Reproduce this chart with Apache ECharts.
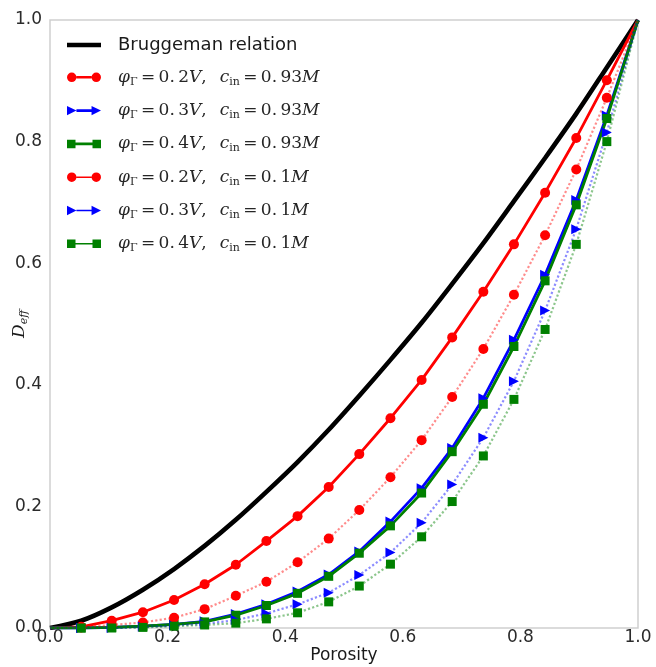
<!DOCTYPE html>
<html>
<head>
<meta charset="utf-8">
<script src="https://cdn.jsdelivr.net/npm/echarts@6/dist/echarts.min.js"></script>
<style>
  html, body { margin: 0; padding: 0; background: #ffffff; }
  #chart { width: 656px; height: 667px; }
</style>
</head>
<body>
<div id="chart"></div>
<script>
// Porosity samples shared by every curve
const porosity = [0, 0.053, 0.105, 0.158, 0.211, 0.263, 0.316, 0.368, 0.421, 0.474,
                  0.526, 0.579, 0.632, 0.684, 0.737, 0.789, 0.842, 0.895, 0.947, 1.0];

// Bruggeman relation
const bruggeman = [0, 0.012, 0.034, 0.063, 0.097, 0.135, 0.178, 0.224, 0.273, 0.326,
                   0.382, 0.441, 0.502, 0.566, 0.633, 0.702, 0.773, 0.846, 0.922, 1.0];

// c_in = 0.93 M
const phi02_c093 = [0, 0.002, 0.012, 0.026, 0.046, 0.072, 0.104, 0.143, 0.184, 0.232,
                    0.286, 0.345, 0.408, 0.478, 0.553, 0.631, 0.716, 0.806, 0.901, 1.0];
const phi03_c093 = [0, 0.000, 0.001, 0.003, 0.006, 0.011, 0.023, 0.039, 0.060, 0.088,
                    0.126, 0.175, 0.230, 0.296, 0.378, 0.474, 0.581, 0.704, 0.843, 1.0];
const phi04_c093 = [0, 0.000, 0.001, 0.003, 0.006, 0.010, 0.021, 0.037, 0.057, 0.085,
                    0.123, 0.168, 0.222, 0.290, 0.368, 0.463, 0.571, 0.696, 0.838, 1.0];

// c_in = 0.1 M
const phi02_c01 = [0, 0.001, 0.005, 0.009, 0.017, 0.031, 0.053, 0.076, 0.108, 0.147,
                   0.194, 0.248, 0.309, 0.380, 0.459, 0.548, 0.646, 0.754, 0.872, 1.0];
const phi03_c01 = [0, 0.000, 0.000, 0.002, 0.004, 0.007, 0.013, 0.024, 0.039, 0.058,
                   0.087, 0.124, 0.173, 0.236, 0.313, 0.406, 0.522, 0.656, 0.815, 1.0];
const phi04_c01 = [0, 0.000, 0.000, 0.001, 0.003, 0.005, 0.008, 0.015, 0.025, 0.043,
                   0.069, 0.105, 0.150, 0.208, 0.283, 0.376, 0.491, 0.631, 0.800, 1.0];

// Axis ticks
const xTicks = [0.0, 0.2, 0.4, 0.6, 0.8, 1.0];
const yTicks = [0.0, 0.2, 0.4, 0.6, 0.8, 1.0];

// Legend entries: [series name, phi value, concentration]
const legendRows = [
  ['Bruggeman relation', null, null],
  ['phi0.2_c0.93', '0.2', '0.93'],
  ['phi0.3_c0.93', '0.3', '0.93'],
  ['phi0.4_c0.93', '0.4', '0.93'],
  ['phi0.2_c0.1', '0.2', '0.1'],
  ['phi0.3_c0.1', '0.3', '0.1'],
  ['phi0.4_c0.1', '0.4', '0.1']
];

const pairs = ys => porosity.map((x, i) => [x, ys[i]]);
// no marker on the two shared end points
const markerSize = s => (val) => (val[0] === 0 || val[0] === 1) ? 0 : s;

const ICON_CIRCLE = 'path://M0,5a5,5 0 1,0 10,0a5,5 0 1,0 -10,0ZM10,3.6H26V6.4H10ZM26,5a5,5 0 1,0 10,0a5,5 0 1,0 -10,0Z';
const ICON_CIRCLE_THIN = 'path://M0,5a5,5 0 1,0 10,0a5,5 0 1,0 -10,0ZM10,4.2H26V5.8H10ZM26,5a5,5 0 1,0 10,0a5,5 0 1,0 -10,0Z';
const ICON_TRI = 'path://M0,0L10,5L0,10ZM10,3.6H26V6.4H10ZM26,0L36,5L26,10Z';
const ICON_TRI_THIN = 'path://M0,0L10,5L0,10ZM10,4.2H26V5.8H10ZM26,0L36,5L26,10Z';
const ICON_SQ = 'path://M0,0.5H9V9.5H0ZM9,3.6H27V6.4H9ZM27,0.5H36V9.5H27Z';
const ICON_SQ_THIN = 'path://M0,0.5H9V9.5H0ZM9,4.2H27V5.8H9ZM27,0.5H36V9.5H27Z';
const ICON_BAR = 'path://M0,0H36V4.6H0Z';

function mathLabel(phi, c) {
  return '{m|φ}{s|Γ}{n|\u2009=\u20090.\u2009' + phi.slice(2) + '}{m|V}{n|,}{g| }' +
         '{m|c}{s|in}{n|\u2009=\u20090.\u2009' + c.slice(2) + '}{m|M}';
}

const chart = echarts.init(document.getElementById('chart'), null, { renderer: 'canvas' });

function lineSeries(name, ys, color, symbol, size, dotted, rotate) {
  return {
    name: name,
    type: 'line',
    data: pairs(ys),
    symbol: symbol,
    symbolSize: markerSize(size),
    symbolRotate: rotate || 0,
    showAllSymbol: true,
    clip: true,
    itemStyle: { color: color, borderWidth: 0 },
    lineStyle: dotted
      ? { color: color, width: 2.2, type: 'dotted', opacity: 0.45 }
      : { color: color, width: 2.8 },
    emphasis: { disabled: true },
    animation: false
  };
}

const option = {
  backgroundColor: '#ffffff',
  animation: false,
  grid: {
    left: 50, right: 18, top: 20, bottom: 39,
    outerBoundsMode: 'none',
    containLabel: false,
    show: true, borderColor: '#cfcfcf', borderWidth: 1.5, backgroundColor: '#ffffff'
  },
  legend: {
    orient: 'vertical',
    left: 67, top: 36,
    padding: 0,
    itemWidth: 34, itemHeight: 10,
    itemGap: 13.3,
    selectedMode: false,
    symbolKeepAspect: true,
    itemStyle: { borderWidth: 0 },
    data: [
      { name: legendRows[0][0], icon: ICON_BAR },
      { name: legendRows[1][0], icon: ICON_CIRCLE },
      { name: legendRows[2][0], icon: ICON_TRI },
      { name: legendRows[3][0], icon: ICON_SQ },
      { name: legendRows[4][0], icon: ICON_CIRCLE_THIN },
      { name: legendRows[5][0], icon: ICON_TRI_THIN },
      { name: legendRows[6][0], icon: ICON_SQ_THIN }
    ],
    formatter: function (name) {
      const row = legendRows.find(r => r[0] === name);
      if (!row[1]) return '{b|' + name + '}';
      return '{p| }' + mathLabel(row[1], row[2]);
    },
    textStyle: {
      color: '#262626',
      rich: {
        b: { fontFamily: 'DejaVu Sans', fontSize: 18, color: '#1a1a1a', lineHeight: 22, padding: [0, 0, 0, 12] },
        p: { fontSize: 10, width: 12, lineHeight: 22 },
        m: { fontFamily: 'DejaVu Serif', fontStyle: 'italic', fontSize: 17, color: '#262626', lineHeight: 22 },
        n: { fontFamily: 'DejaVu Serif', fontSize: 17, color: '#262626', lineHeight: 22 },
        s: { fontFamily: 'DejaVu Serif', fontSize: 11, color: '#262626', lineHeight: 22, padding: [9, 0, 0, 0] },
        g: { fontSize: 10, width: 13, lineHeight: 22 }
      }
    }
  },
  xAxis: {
    type: 'value',
    min: xTicks[0], max: xTicks[xTicks.length - 1], interval: 0.2,
    name: 'Porosity',
    nameLocation: 'middle',
    nameGap: 19,
    nameMoveOverlap: false,
    nameTextStyle: { fontFamily: 'DejaVu Sans', fontSize: 17, color: '#1a1a1a' },
    axisLine: { show: false },
    axisTick: { show: false },
    splitLine: { show: false },
    axisLabel: {
      margin: 1, fontFamily: 'DejaVu Sans', fontSize: 17, color: '#2b2b2b',
      hideOverlap: false,
      formatter: v => v.toFixed(1)
    }
  },
  yAxis: {
    type: 'value',
    min: yTicks[0], max: yTicks[yTicks.length - 1], interval: 0.2,
    name: '{d|D}{e|eff}',
    nameLocation: 'middle',
    nameRotate: 90,
    nameGap: 19,
    nameMoveOverlap: false,
    nameTextStyle: {
      rich: {
        d: { fontFamily: 'DejaVu Serif', fontStyle: 'italic', fontSize: 17, color: '#1a1a1a', lineHeight: 22 },
        e: { fontFamily: 'DejaVu Serif', fontStyle: 'italic', fontSize: 11, color: '#1a1a1a', lineHeight: 22, padding: [9, 0, 0, 0] }
      }
    },
    axisLine: { show: false },
    axisTick: { show: false },
    splitLine: { show: false },
    axisLabel: {
      margin: 8, fontFamily: 'DejaVu Sans', fontSize: 17, color: '#2b2b2b',
      hideOverlap: false,
      formatter: v => v.toFixed(1)
    }
  },
  series: [
    {
      name: legendRows[0][0],
      type: 'line',
      data: pairs(bruggeman),
      symbol: 'none',
      smooth: 0.3,
      clip: true,
      itemStyle: { color: '#000000' },
      lineStyle: { color: '#000000', width: 4.6 },
      emphasis: { disabled: true },
      animation: false
    },
    lineSeries(legendRows[1][0], phi02_c093, '#ff0000', 'circle', 10, false),
    lineSeries(legendRows[2][0], phi03_c093, '#0000ff', 'triangle', 10, false, -90),
    lineSeries(legendRows[3][0], phi04_c093, '#008000', 'rect', 9, false),
    lineSeries(legendRows[4][0], phi02_c01, '#ff0000', 'circle', 10, true),
    lineSeries(legendRows[5][0], phi03_c01, '#0000ff', 'triangle', 10, true, -90),
    lineSeries(legendRows[6][0], phi04_c01, '#008000', 'rect', 9, true)
  ]
};

chart.setOption(option);
</script>
</body>
</html>
